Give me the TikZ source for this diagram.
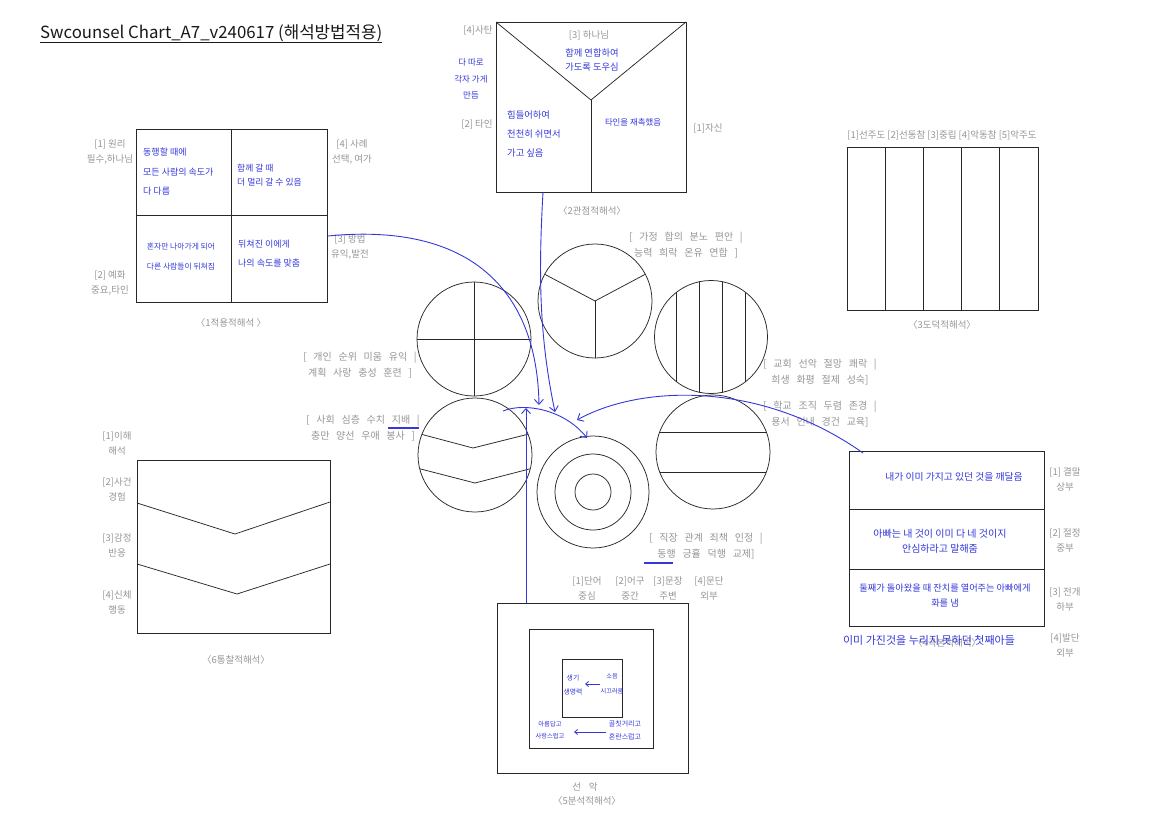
\documentclass[tikz,border=0pt]{standalone}
\usepackage{fontspec}
\setmainfont{Noto Sans CJK KR}
\newfontfamily\widefont[WordSpace=3]{Noto Sans CJK KR}
\usetikzlibrary{arrows.meta,calc}
\definecolor{pen}{RGB}{52,56,218}
\definecolor{lbl}{RGB}{150,150,150}
\definecolor{ink}{RGB}{40,40,40}
\begin{document}
\begin{tikzpicture}[x=1pt,y=-1pt,
 frame/.style={draw=ink, line width=0.75pt},
 box/.style={frame, rectangle, inner sep=0pt, outer sep=0pt, anchor=north west},
 ring/.style={frame, circle, inner sep=0pt, outer sep=0pt},
 glabel/.style={text=lbl, font=\fontsize{9.5}{15}\selectfont, inner sep=0pt, align=center},
 clabel/.style={text=lbl, font=\widefont\fontsize{10}{16}\selectfont, inner sep=0pt, align=center},
 capt/.style={text=lbl, font=\fontsize{9.5}{12}\selectfont, inner sep=0pt},
 hand/.style={text=pen, inner sep=0pt, align=center},
 penarrow/.style={draw=pen, line width=0.9pt, -{Straight Barb[length=5pt,width=9pt]}},
 smallarrow/.style={draw=pen, line width=0.8pt, -{Straight Barb[length=3pt,width=5pt]}},
 penline/.style={draw=pen, line width=1.1pt},
]
\useasboundingbox[fill=white] (0,0) rectangle (1152,814);

% title
\node[anchor=base west, inner sep=0pt, font=\fontsize{16.8}{18}\selectfont, text=black!90] (title) at (40,38) {Swcounsel Chart\_A7\_v240617 (해석방법적용)};
\draw[black!90, line width=0.8pt] ($(title.base west)+(0,4)$) -- ($(title.base east)+(0,4)$);

% ---------- box 1 ----------
\node[box, minimum width=191pt, minimum height=173pt] (b1) at (136,129) {};
\draw[frame] (b1.north) -- (b1.south);
\draw[frame] (b1.west) -- (b1.east);
\node[glabel] (l1a) at (110,152) {[1] 원리\\필수,하나님};
\node[glabel] (l1b) at (110,283) {[2] 예화\\중요,타인};
\node[glabel] (l1c) at (352,152) {[4] 사례\\선택, 여가};
\node[glabel] (l1d) at (350,247) {[3] 방법\\유익,발전};
\node[capt] (c1) at (231,323) {〈1적용적해석 〉};
\node[hand, align=left, anchor=west, font=\fontsize{9}{19.5}\selectfont] (h1a) at (143,172) {동행할 때에\\모든 사람의 속도가\\다 다름};
\node[hand, align=left, anchor=west, font=\fontsize{8.8}{14.5}\selectfont] (h1b) at (237,175) {함께 갈 때\\더 멀리 갈 수 있음};
\node[hand, font=\fontsize{7.8}{20}\selectfont] (h1c) at (181,257) {혼자만 나아가게 되어\\다른 사람들이 뒤쳐짐};
\node[hand, align=left, anchor=west, font=\fontsize{9}{19}\selectfont] (h1d) at (238,254) {뒤쳐진 이에게\\나의 속도를 맞춤};

% ---------- box 2 ----------
\node[box, minimum width=190pt, minimum height=170pt] (b2) at (496,22) {};
\coordinate (y2) at (591,100);
\draw[frame] (b2.north west) -- (y2) -- (b2.north east);
\draw[frame] (y2) -- (y2 |- b2.south);
\node[glabel] (l2a) at (478,30) {[4]사탄};
\node[glabel] (l2b) at (589,35) {[3] 하나님};
\node[glabel] (l2c) at (477,124) {[2] 타인};
\node[glabel] (l2d) at (708,128) {[1]자신};
\node[capt] (c2) at (592,211) {〈2관점적해석〉};
\node[hand, font=\fontsize{9.3}{14}\selectfont] (h2a) at (592,60) {함께 연합하여\\가도록 도우심};
\node[hand, font=\fontsize{8.5}{16.5}\selectfont] (h2b) at (471,79) {다 따로\\각자 가게\\만듬};
\node[hand, align=left, anchor=west, font=\fontsize{9.3}{19}\selectfont] (h2c) at (507,134) {힘들어하여\\천천히 쉬면서\\가고 싶음};
\node[hand, font=\fontsize{8.4}{14}\selectfont] (h2d) at (633,122) {타인을 재촉했음};

% ---------- box 3 ----------
\node[box, minimum width=191pt, minimum height=163pt] (b3) at (847,147) {};
\foreach \i in {1,...,4}
  \draw[frame] ($(b3.north west)!\i/5!(b3.north east)$) -- ($(b3.south west)!\i/5!(b3.south east)$);
\node[glabel] (l3) at (942,135) {[1]선주도 [2]선동참 [3]중립 [4]악동참 [5]악주도};
\node[capt] (c3) at (942,325) {〈3도덕적해석〉};

% ---------- circles ----------
\node[ring, minimum size=114pt] (cA) at (474,339) {};
\draw[frame] (cA.north) -- (cA.south);
\draw[frame] (cA.west) -- (cA.east);

\node[ring, minimum size=114pt] (cB) at (595,301) {};
\draw[frame] (cB.center) -- (cB.152);
\draw[frame] (cB.center) -- (cB.28);
\draw[frame] (cB.center) -- (cB.south);

\node[ring, minimum size=113pt] (cC) at (711,337) {};
\begin{scope}
  \clip (cC.center) circle (56.5);
  \foreach \dx in {-34.5,-11.5,11.5,34.5}
    \draw[frame] ($(cC.center)+(\dx,-60)$) -- ($(cC.center)+(\dx,60)$);
\end{scope}

\node[ring, minimum size=114pt] (cD) at (475,455) {};
\begin{scope}
  \clip (cD.center) circle (57);
  \draw[frame] ($(cD.center)+(-66,-24)$) -- ($(cD.center)+(-2,-7)$) -- ($(cD.center)+(66,-24)$);
  \draw[frame] ($(cD.center)+(-66,11)$) -- ($(cD.center)+(0,28)$) -- ($(cD.center)+(66,11)$);
\end{scope}

\node[ring, minimum size=112pt] (cE) at (593,492) {};
\node[ring, minimum size=76pt] (cEm) at (cE.center) {};
\node[ring, minimum size=36pt] (cEi) at (cE.center) {};

\node[ring, minimum size=114pt] (cF) at (713,452) {};
\begin{scope}
  \clip (cF.center) circle (57);
  \draw[frame] ($(cF.center)+(-60,-20)$) -- ($(cF.center)+(60,-20)$);
  \draw[frame] ($(cF.center)+(-60,20)$) -- ($(cF.center)+(60,20)$);
\end{scope}

\node[clabel] (g1) at (686,245) {[ 가정 합의 분노 편안 |\\능력 희락 온유 연합 ]};
\node[clabel] (g2) at (360,365) {[ 개인 순위 미움 유익 |\\계획 사랑 충성 훈련 ]};
\node[clabel] (g3) at (363,428) {[ 사회 심층 수치 지배 |\\충만 양선 우애 봉사 ]};
\node[clabel] (g4) at (820,372) {[ 교회 선악 절망 쾌락 |\\희생 화평 절제 성숙]};
\node[clabel] (g5) at (820,414) {[ 학교 조직 두렴 존경 |\\용서 인내 경건 교육]};
\node[clabel] (g6) at (706,546) {[ 직장 관계 죄책 인정 |\\동행 긍휼 덕행 교제]};
\coordinate (u1s) at (388,428); \coordinate (u1e) at (419,428);
\draw[penline] (u1s) -- (u1e);
\coordinate (u2s) at (644,563); \coordinate (u2e) at (673,563);
\draw[penline] (u2s) -- (u2e);

% ---------- box 6 ----------
\node[box, minimum width=193pt, minimum height=173pt] (b6) at (137,460) {};
\draw[frame] ($(b6.north west)+(0,43)$) -- ($(b6.north west)+(98,74)$) -- ($(b6.north east)+(0,42)$);
\draw[frame] ($(b6.north west)+(0,104)$) -- ($(b6.north west)+(100,134)$) -- ($(b6.north east)+(0,104)$);
\node[glabel] (l6a) at (117,443) {[1]이해\\해석};
\node[glabel] (l6b) at (117,489) {[2]사건\\경험};
\node[glabel] (l6c) at (117,545) {[3]감정\\반응};
\node[glabel] (l6d) at (117,602) {[4]신체\\행동};
\node[capt] (c6) at (236,660) {〈6통찰적해석〉};

% ---------- box 4 ----------
\node[box, minimum width=195pt, minimum height=175pt] (b4) at (849,451) {};
\draw[frame] ($(b4.north west)+(0,58)$) -- ($(b4.north east)+(0,58)$);
\draw[frame] ($(b4.north west)+(0,118)$) -- ($(b4.north east)+(0,118)$);
\node[glabel] (l4a) at (1065,479) {[1] 결말\\상부};
\node[glabel] (l4b) at (1065,540) {[2] 절정\\중부};
\node[glabel] (l4c) at (1065,599) {[3] 전개\\하부};
\node[glabel] (l4d) at (1065,645) {[4]발단\\외부};
\node[capt] (c4) at (947,643) {〈4극본적해석〉};
\node[hand, font=\fontsize{9.8}{14}\selectfont] (h4a) at (954,477) {내가 이미 가지고 있던 것을 깨달음};
\node[hand, font=\fontsize{10}{15}\selectfont] (h4b) at (940,541) {아빠는 내 것이 이미 다 네 것이지\\안심하라고 말해줌};
\node[hand, font=\fontsize{9.2}{15}\selectfont] (h4c) at (945,596) {둘째가 돌아왔을 때 잔치를 열어주는 아빠에게\\화를 냄};
\node[hand, font=\fontsize{11}{14}\selectfont] (h4d) at (929,640) {이미 가진것을 누리지 못하던 첫째아들};

% ---------- box 5 ----------
\node[box, minimum width=191pt, minimum height=170pt] (b5) at (497,603) {};
\node[box, minimum width=124pt, minimum height=119pt] (b5m) at (529,629) {};
\node[box, minimum width=60pt, minimum height=58pt] (b5i) at (562,659) {};
\node[glabel] (l5a) at (587,588) {[1]단어\\중심};
\node[glabel] (l5b) at (630,588) {[2]어구\\중간};
\node[glabel] (l5c) at (668,588) {[3]문장\\주변};
\node[glabel] (l5d) at (709,588) {[4]문단\\외부};
\node[capt] (l5e) at (585,787) {선\hspace{0.8em}악};
\node[capt] (c5) at (587,801) {〈5분석적해석〉};
\node[hand, font=\fontsize{6.8}{14}\selectfont] (h5a) at (573,685) {생기\\생명력};
\node[hand, font=\fontsize{6.2}{15}\selectfont] (h5b) at (612,684) {소음\\시끄러움};
\node[hand, font=\fontsize{6.3}{12}\selectfont] (h5c) at (550,730) {아름답고\\사랑스럽고};
\node[hand, font=\fontsize{7}{13}\selectfont] (h5d) at (625,730) {골칫거리고\\혼란스럽고};
\coordinate (s1a) at (600,684); \coordinate (s1b) at (585,684);
\draw[smallarrow] (s1a) -- (s1b);
\coordinate (s2a) at (606,732); \coordinate (s2b) at (574,732);
\draw[smallarrow] (s2a) -- (s2b);

% ---------- blue connectors ----------
\coordinate (a1s) at ($(b1.north east)+(1,107)$);
\coordinate (a1e) at (539,405);
\draw[penarrow] (a1s) .. controls (470,222) and (537,290) .. (a1e);

\coordinate (a2s) at ($(b2.south west)+(47,0)$);
\coordinate (a2e) at (555,412);
\draw[penarrow] (a2s) .. controls (538,280) and (540,340) .. (a2e);

\coordinate (a3s) at ($(b4.north west)+(14,2)$);
\coordinate (a3e) at (577,420);
\draw[penarrow] (a3s) .. controls (760,380) and (640,385) .. (a3e);

\coordinate (a4s) at ($(b5.north west)+(29,0)$);
\coordinate (a4e) at (526,408);
\draw[penarrow] (a4s) -- (a4e);

\coordinate (a5s) at (503,411);
\coordinate (a5e) at (587,438);
\draw[penarrow] (a5s) .. controls (525,402) and (565,410) .. (a5e);

\end{tikzpicture}
\end{document}
